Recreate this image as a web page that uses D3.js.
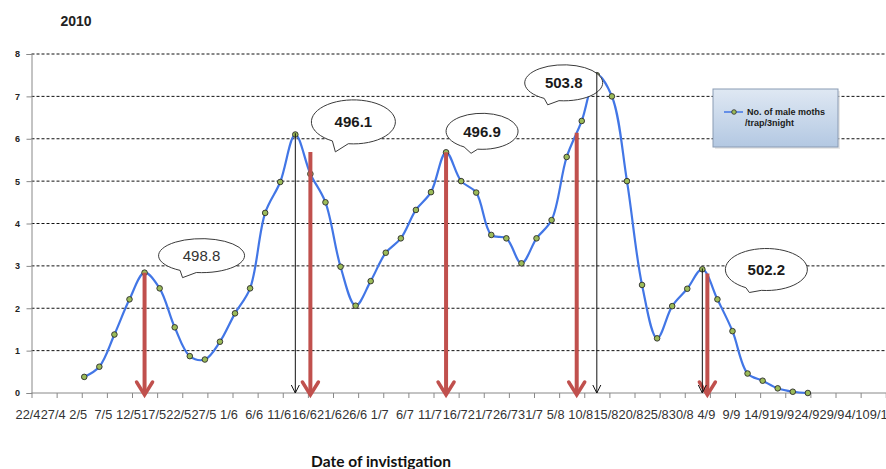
<!DOCTYPE html>
<html><head><meta charset="utf-8">
<script src="https://cdn.jsdelivr.net/npm/d3@7"></script>
<style>
html,body{margin:0;padding:0;background:#fff;}
svg{display:block;}
</style></head>
<body>
<svg id="chart" width="886" height="469"></svg>
<script>
// ---------- DATA ----------
const chartTitle = "2010";
const xAxisTitle = "Date of invistigation";
const seriesName = ["No. of male moths", "/trap/3night"];
const xTickLabels = ["22/4","27/4","2/5","7/5","12/5","17/5","22/5","27/5","1/6","6/6","11/6","16/6","21/6","26/6","1/7","6/7","11/7","16/7","21/7","26/7","31/7","5/8","10/8","15/8","20/8","25/8","30/8","4/9","9/9","14/9","19/9","24/9","29/9","4/10","9/10"];
const yTicks = [0,1,2,3,4,5,6,7,8];
const sampleDates = ["2/5","5/5","8/5","11/5","14/5","17/5","20/5","23/5","26/5","29/5",
  "1/6","4/6","7/6","10/6","13/6","16/6","19/6","22/6","25/6","28/6",
  "1/7","4/7","7/7","10/7","13/7","16/7","19/7","22/7","25/7","28/7","31/7",
  "3/8","6/8","9/8","12/8","15/8","18/8","21/8","24/8","27/8","30/8",
  "2/9","5/9","8/9","11/9","14/9","17/9","20/9","23/9"];
const mothCounts = [0.38,0.62,1.38,2.21,2.84,2.47,1.55,0.87,0.79,1.21,
  1.88,2.47,4.25,4.98,6.10,5.17,4.50,2.98,2.06,2.64,
  3.31,3.65,4.32,4.74,5.68,5.00,4.73,3.73,3.65,3.06,3.65,
  4.08,5.57,6.42,7.50,7.00,5.00,2.55,1.29,2.05,2.46,
  2.92,2.21,1.46,0.46,0.29,0.11,0.03,0.00];
// predicted peaks (red arrows) with degree-day callouts
const predictedDates = ["14/5","16/6","13/7","8/8","3/9"];
const predictedTops = [2.84,5.69,5.68,6.14,2.82];
const calloutLabels = ["498.8","496.1","496.9","503.8","502.2"];
// observed peaks (black arrows)
const observedDates = ["13/6","12/8","2/9"];
const observedTops = [6.13,7.55,2.94];

// ---------- LAYOUT ----------
const parse = s => d3.timeParse("%d/%m/%Y")(s + "/2010");
const noon = s => d3.timeHour.offset(parse(s), 12);
const X0 = 31.5, PX_PER_DAY = 5.025;
const dStart = parse("22/4"), dEnd = parse("14/10");
const nDays = d3.timeDay.count(dStart, dEnd);
const x = d3.scaleTime().domain([dStart, dEnd]).range([X0, X0 + nDays * PX_PER_DAY]);
const y = d3.scaleLinear().domain([0, 8]).range([393, 54]);

const svg = d3.select("#chart");
const FONT = "'Liberation Sans', Arial, sans-serif";

// gradient for legend
const defs = svg.append("defs");
const lg = defs.append("linearGradient").attr("id","lgGrad").attr("x1","0").attr("y1","0").attr("x2","0").attr("y2","1");
lg.append("stop").attr("offset","0%").attr("stop-color","#dfe8f3");
lg.append("stop").attr("offset","100%").attr("stop-color","#b3c8e2");

// title
svg.append("text").attr("x", 76).attr("y", 26).attr("text-anchor","middle")
  .attr("font-family", FONT).attr("font-weight","bold").attr("font-size", 14)
  .attr("fill","#222").text(chartTitle);

// gridlines
svg.append("g").selectAll("line").data(yTicks.filter(v => v > 0)).join("line")
  .attr("x1", X0).attr("x2", x.range()[1])
  .attr("y1", d => y(d)).attr("y2", d => y(d))
  .attr("stroke","#111").attr("stroke-width",1).attr("stroke-dasharray","3,2");

// y axis
const yAxis = svg.append("g").attr("transform", `translate(${X0},0)`)
  .call(d3.axisLeft(y).tickValues(yTicks).tickSize(5).tickFormat(d3.format("d")));
yAxis.select(".domain").attr("stroke","#888");
yAxis.selectAll(".tick line").attr("stroke","#888");
yAxis.selectAll(".tick text").attr("font-family", FONT).attr("font-weight","bold")
  .attr("font-size", 9).attr("fill","#222").attr("x", -14).attr("text-anchor","middle");

// x axis
const xAxis = svg.append("g").attr("transform", `translate(0,${y(0)})`)
  .call(d3.axisBottom(x).tickValues(xTickLabels.map(parse)).tickSize(5)
    .tickFormat((d, i) => xTickLabels[i]));
xAxis.select(".domain").attr("stroke","#888").attr("d", `M${X0},0H${x.range()[1]}`);
xAxis.selectAll(".tick line").attr("stroke","#888");
xAxis.selectAll(".tick text").attr("font-family", FONT).attr("font-size", 12.8)
  .attr("fill","#333").attr("dx", -4).attr("y", 17);

// x axis title
svg.append("text").attr("x", 381).attr("y", 467).attr("text-anchor","middle")
  .attr("font-family", "Lato, 'Liberation Sans', sans-serif").attr("font-weight","bold").attr("font-size", 15.5)
  .attr("fill","#111").text(xAxisTitle);

// series line
const pts = sampleDates.map((d, i) => ({date: noon(d), v: mothCounts[i]}));
const line = d3.line().x(d => x(d.date)).y(d => y(d.v)).curve(d3.curveCatmullRom.alpha(0.5));
svg.append("path").datum(pts).attr("d", line)
  .attr("fill","none").attr("stroke","#4276e6").attr("stroke-width",2.2);
svg.append("g").selectAll("circle").data(pts).join("circle")
  .attr("cx", d => x(d.date)).attr("cy", d => y(d.v)).attr("r", 2.8)
  .attr("fill","#9bbb59").attr("stroke","#2b2b2b").attr("stroke-width",0.9);

// red arrows
const RED = "#c0504d";
const redG = svg.append("g");
predictedDates.forEach((d, i) => {
  const ax = x(noon(d)), top = y(predictedTops[i]), tip = y(0) + 2;
  redG.append("line").attr("x1", ax).attr("x2", ax).attr("y1", top).attr("y2", tip - 1)
    .attr("stroke", RED).attr("stroke-width", 4);
  redG.append("path").attr("d", `M${ax-8},${tip-13}L${ax},${tip}L${ax+8},${tip-13}`)
    .attr("fill","none").attr("stroke", RED).attr("stroke-width", 3.5)
    .attr("stroke-linejoin","miter").attr("stroke-linecap","round");
});

// callouts
const calloutStyle = [
  {dx: 57, dy: -17, rx: 43, ry: 17, tx: -19, ty: 22, bold: false},
  {dx: 43, dy: -30, rx: 42, ry: 22, tx: -18, ty: 30, bold: true},
  {dx: 36, dy: -21, rx: 36, ry: 18, tx: -11, ty: 22, bold: true},
  {dx: -13, dy: -50, rx: 39, ry: 18, tx: -16, ty: 22, bold: true},
  {dx: 59, dy: -4, rx: 41, ry: 21, tx: -17, ty: 23, bold: true}
];
const cg = svg.append("g");
calloutLabels.forEach((lab, i) => {
  const s = calloutStyle[i];
  const cx = x(noon(predictedDates[i])) + s.dx, cy = y(predictedTops[i]) + s.dy;
  const a1 = 120 * Math.PI / 180, a2 = 97 * Math.PI / 180;
  const p1 = [cx + s.rx * Math.cos(a1), cy + s.ry * Math.sin(a1)];
  const p2 = [cx + s.rx * Math.cos(a2), cy + s.ry * Math.sin(a2)];
  const tip = [cx + s.tx, cy + s.ty];
  cg.append("path")
    .attr("d", `M${p1[0]},${p1[1]}A${s.rx},${s.ry} 0 1 1 ${p2[0]},${p2[1]}L${tip[0]},${tip[1]}Z`)
    .attr("fill","#fff").attr("stroke","#3a3a3a").attr("stroke-width",1);
  cg.append("text").attr("x", cx).attr("y", cy + 5.5).attr("text-anchor","middle")
    .attr("font-family", FONT).attr("font-size", 15)
    .attr("font-weight", s.bold ? "bold" : "normal")
    .attr("fill", s.bold ? "#1a1a1a" : "#333").text(lab);
});

// black arrows
const bg = svg.append("g");
observedDates.forEach((d, i) => {
  const ax = x(noon(d)), top = y(observedTops[i]), tip = y(0);
  bg.append("line").attr("x1", ax).attr("x2", ax).attr("y1", top).attr("y2", tip)
    .attr("stroke","#111").attr("stroke-width",1);
  bg.append("path").attr("d", `M${ax-4},${tip-8}L${ax},${tip}L${ax+4},${tip-8}`)
    .attr("fill","none").attr("stroke","#111").attr("stroke-width",1);
});

// legend
const lgX = 713, lgY = 89, lgW = 125, lgH = 58;
svg.append("rect").attr("x", lgX + 2).attr("y", lgY + 2).attr("width", lgW).attr("height", lgH)
  .attr("fill","#d9d9d9").attr("opacity",0.6);
svg.append("rect").attr("x", lgX).attr("y", lgY).attr("width", lgW).attr("height", lgH)
  .attr("fill","url(#lgGrad)").attr("stroke","#8a9bb3").attr("stroke-width",1);
svg.append("line").attr("x1", lgX + 11).attr("x2", lgX + 30).attr("y1", lgY + 23).attr("y2", lgY + 23)
  .attr("stroke","#4276e6").attr("stroke-width",1.5);
svg.append("circle").attr("cx", lgX + 21).attr("cy", lgY + 23).attr("r", 2.3)
  .attr("fill","#9bbb59").attr("stroke","#2b2b2b").attr("stroke-width",0.8);
svg.append("text").attr("x", lgX + 34).attr("y", lgY + 26)
  .attr("font-family", FONT).attr("font-weight","bold").attr("font-size", 9)
  .attr("fill","#1a1a1a").text(seriesName[0]);
svg.append("text").attr("x", lgX + 32).attr("y", lgY + 37)
  .attr("font-family", FONT).attr("font-weight","bold").attr("font-size", 9)
  .attr("fill","#1a1a1a").text(seriesName[1]);
</script>
</body></html>
